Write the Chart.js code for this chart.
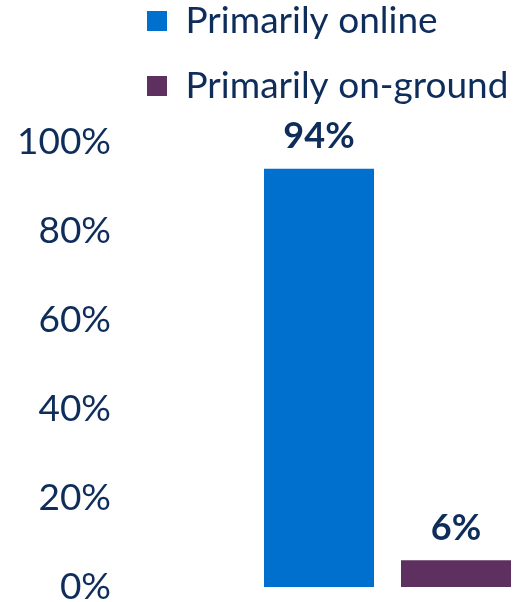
<!DOCTYPE html>
<html>
<head>
<meta charset="utf-8">
<script src="https://cdn.jsdelivr.net/npm/chart.js@4"></script>
<style>
  html, body { margin: 0; padding: 0; background: #ffffff; }
  #wrap { width: 516px; height: 602px; }
</style>
</head>
<body>
<div id="wrap"><canvas id="modeChart"></canvas></div>
<script>
// 데이터
const seriesNames = ['Primarily online', 'Primarily on-ground'];
const seriesValues = [94, 6];
const seriesColors = ['#0070CF', '#5E3060'];
const yTicks = [0, 20, 40, 60, 80, 100];

const textColor = '#0E2D5B';
const legendFont = 37;
const legendGap = 28;

// 막대 위 값 표시
const valueLabels = {
    id: 'valueLabels',
    afterDatasetsDraw(chart) {
        const ctx = chart.ctx;
        ctx.save();
        ctx.font = 'bold 36px Lato';
        ctx.fillStyle = textColor;
        ctx.textAlign = 'center';
        ctx.textBaseline = 'middle';
        chart.data.datasets.forEach((ds, i) => {
            chart.getDatasetMeta(i).data.forEach((bar, j) => {
                ctx.fillText(ds.data[j] + '%', bar.x, bar.y - 32);
            });
        });
        ctx.restore();
    }
};

// 범례 위치 조정 (왼쪽 정렬된 세로 목록처럼)
const legendShift = {
    id: 'legendShift',
    afterLayout(chart) {
        const lg = chart.legend;
        const h = lg.height;
        lg.left = 119;
        lg.top = -25.5;
        lg.bottom = lg.top + h;
    }
};

const datasets = seriesNames.map((name, i) => ({
    label: name,
    data: [seriesValues[i]],
    backgroundColor: seriesColors[i],
    borderWidth: 0,
    categoryPercentage: 274 / 255,
    barPercentage: 110 / 137
}));

new Chart(document.getElementById('modeChart'), {
    type: 'bar',
    data: { labels: [''], datasets },
    plugins: [valueLabels, legendShift],
    options: {
        responsive: true,
        maintainAspectRatio: false,
        animation: false,
        layout: { padding: { left: 0, top: 0, right: 1, bottom: 0 } },
        scales: {
            x: { display: false },
            y: {
                min: 0,
                max: 100,
                afterBuildTicks: scale => { scale.ticks = yTicks.map(v => ({ value: v })); },
                afterFit: scale => {
                    scale.width = 260;
                    scale.paddingTop = 142;
                    scale.paddingBottom = 15;
                },
                grid: { display: false, drawTicks: false },
                border: { display: false },
                ticks: {
                    padding: 149,
                    color: textColor,
                    font: { family: 'Lato', size: 37 },
                    callback: v => v + '%'
                }
            }
        },
        plugins: {
            legend: {
                position: 'top',
                align: 'start',
                labels: {
                    boxWidth: 20,
                    boxHeight: 20,
                    padding: legendGap,
                    color: textColor,
                    font: { family: 'Lato', size: legendFont }
                }
            },
            tooltip: { enabled: false }
        }
    }
});
</script>
</body>
</html>
